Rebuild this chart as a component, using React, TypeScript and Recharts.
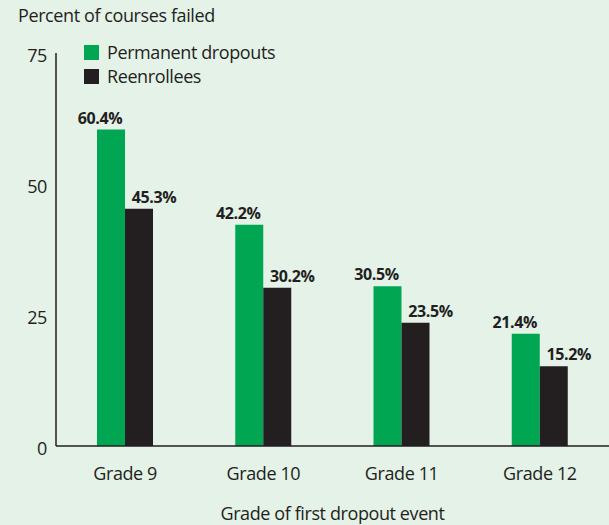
import React from 'react';
import { BarChart, Bar, XAxis, YAxis, LabelList } from 'recharts';

const grades = ['Grade 9', 'Grade 10', 'Grade 11', 'Grade 12'];
const permanentDropouts = [60.4, 42.2, 30.5, 21.4];
const reenrollees = [45.3, 30.2, 23.5, 15.2];
const yTicks = [0, 25, 50, 75];

const data = grades.map((g, i) => ({ grade: g, perm: permanentDropouts[i], reen: reenrollees[i] }));

const FONT = '"Open Sans", "Noto Sans", sans-serif';
const GREEN = '#00a651';
const DARK = '#231f20';
const BG = '#e4f2e8';

const makeLabel = (shift: number) => (props: any) => {
  const { x, y, width, value } = props;
  return (
    <text x={x + width / 2 + shift} y={y - 12} textAnchor="middle" dominantBaseline="central"
      fontFamily={FONT} fontWeight={700} fontSize={16} fill={DARK} letterSpacing={-0.4}>
      {value.toFixed(1)}%
    </text>
  );
};

const XTick = (props: any) => {
  const { x, y, payload } = props;
  return (
    <text x={x} y={y + 27} textAnchor="middle" dominantBaseline="central"
      fontFamily={FONT} fontSize={18} fill={DARK} letterSpacing={-0.4}>
      {payload.value}
    </text>
  );
};

const YTick = (props: any) => {
  const { x, y, payload } = props;
  return (
    <text x={x} y={y + 2} textAnchor="end" dominantBaseline="central"
      fontFamily={FONT} fontSize={18} fill={DARK} letterSpacing={-0.4}>
      {payload.value}
    </text>
  );
};

export default function App() {
  return (
    <div style={{ position: 'absolute', left: 0, top: 0, width: 609, height: 525, background: BG, fontFamily: FONT, color: DARK }}>
      <div style={{ position: 'absolute', left: 18, top: 3, fontSize: 18, letterSpacing: -0.4, lineHeight: '24px', whiteSpace: 'nowrap' }}>
        Percent of courses failed
      </div>
      <div style={{ position: 'absolute', left: 84, top: 40, fontSize: 18, letterSpacing: -0.4, lineHeight: '24px', whiteSpace: 'nowrap' }}>
        <div style={{ display: 'flex', alignItems: 'center' }}>
          <span style={{ display: 'inline-block', width: 15, height: 15, background: GREEN, marginRight: 8 }} />
          Permanent dropouts
        </div>
        <div style={{ display: 'flex', alignItems: 'center' }}>
          <span style={{ display: 'inline-block', width: 15, height: 15, background: DARK, marginRight: 8 }} />
          Reenrollees
        </div>
      </div>
      <div style={{ position: 'absolute', left: 56, width: 553, top: 500, textAlign: 'center', fontSize: 18, letterSpacing: -0.4, lineHeight: '26px', whiteSpace: 'nowrap' }}>
        Grade of first dropout event
      </div>
      <div style={{ position: 'absolute', left: 0, top: 0 }}>
        <BarChart width={609} height={525} data={data} margin={{ top: 53, right: 0, left: 0, bottom: 0 }}
          barGap={0} barCategoryGap="29.7%">
          <XAxis dataKey="grade" height={79} tickLine={false} tickSize={0} tickMargin={0}
            axisLine={{ stroke: DARK, strokeWidth: 1.5 }} tick={<XTick />} interval={0} />
          <YAxis domain={[0, 75]} ticks={yTicks} width={56} tickLine={false} tickSize={0} tickMargin={9}
            axisLine={{ stroke: DARK, strokeWidth: 1.5 }} tick={<YTick />} />
          <Bar dataKey="perm" fill={GREEN} barSize={28} isAnimationActive={false}>
            <LabelList dataKey="perm" content={makeLabel(-11)} />
          </Bar>
          <Bar dataKey="reen" fill={DARK} barSize={28} isAnimationActive={false}>
            <LabelList dataKey="reen" content={makeLabel(15)} />
          </Bar>
        </BarChart>
      </div>
    </div>
  );
}
